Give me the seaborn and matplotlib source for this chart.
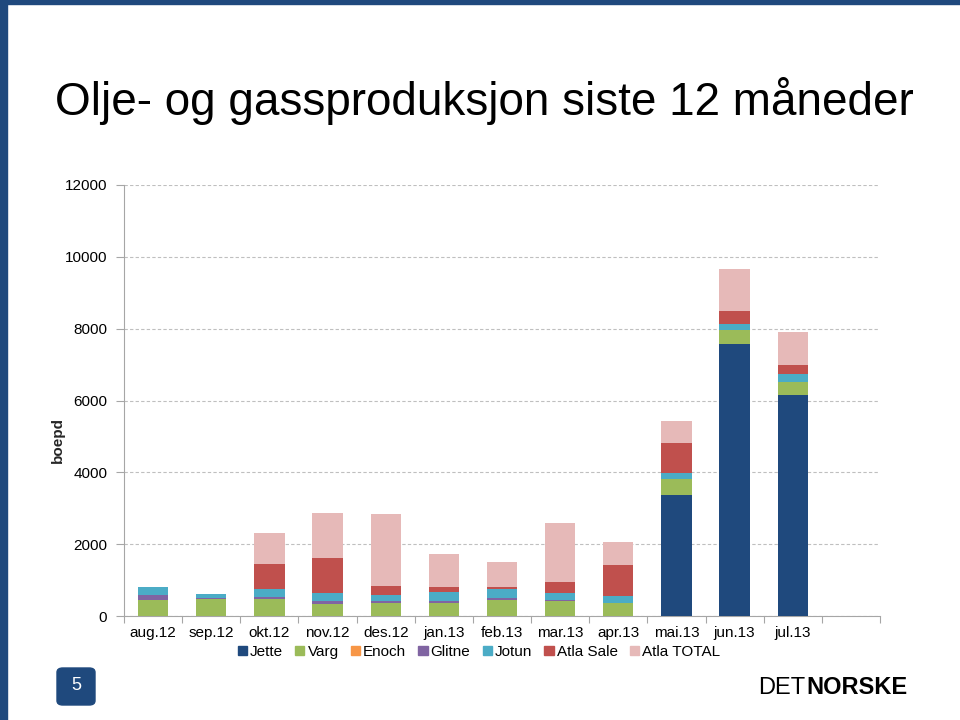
import numpy as np
import pandas as pd
import seaborn as sns
import matplotlib.pyplot as plt
from matplotlib.patches import FancyBboxPatch, Rectangle

# data (boepd)
months = ['aug.12', 'sep.12', 'okt.12', 'nov.12', 'des.12', 'jan.13',
          'feb.13', 'mar.13', 'apr.13', 'mai.13', 'jun.13', 'jul.13']
jette = [0, 0, 0, 0, 0, 0, 0, 0, 0, 3360, 7580, 6150]
varg = [445, 465, 465, 345, 355, 360, 455, 410, 370, 445, 370, 365]
enoch = [0, 0, 0, 0, 0, 0, 0, 0, 0, 0, 0, 0]
glitne = [140, 40, 75, 65, 55, 50, 55, 45, 0, 0, 0, 0]
jotun = [230, 120, 210, 230, 185, 245, 230, 195, 185, 170, 185, 215]
atla_sale = [0, 0, 705, 985, 230, 150, 75, 290, 865, 850, 355, 250]
atla_total = [0, 0, 865, 1235, 2015, 925, 680, 1650, 640, 605, 1160, 920]

series = ['Jette', 'Varg', 'Enoch', 'Glitne', 'Jotun', 'Atla Sale', 'Atla TOTAL']
colors = ['#1F497D', '#9BBB59', '#F79646', '#8064A2', '#4BACC6', '#C0504D', '#E6B9B8']

df = pd.DataFrame({'month': months, 'Jette': jette, 'Varg': varg, 'Enoch': enoch,
                   'Glitne': glitne, 'Jotun': jotun, 'Atla Sale': atla_sale,
                   'Atla TOTAL': atla_total})
cum = df[series].cumsum(axis=1)
cum['month'] = months

sns.set_style('white')
plt.rcParams['font.family'] = ['Liberation Sans', 'DejaVu Sans']
plt.rcParams['text.color'] = 'black'
plt.rcParams['xtick.color'] = 'black'
plt.rcParams['ytick.color'] = 'black'

fig = plt.figure(figsize=(9.6, 7.2), dpi=100)
ax = fig.add_axes([124 / 960, 1 - 616 / 720, 756 / 960, 431 / 720])

order = months + [' ']
# stacked bars: draw cumulative totals from the top series down
for name, col in reversed(list(zip(series, colors))):
    sns.barplot(data=cum, x='month', y=name, order=order, color=col,
                width=0.52, saturation=1, linewidth=0, ax=ax, zorder=3)

ax.set_xlim(-0.5, 12.5)
ax.set_ylim(0, 12000)
ax.set_yticks(range(0, 12001, 2000))
ax.yaxis.grid(True, color='#BFBFBF', linestyle=(0, (3, 2)), linewidth=0.8, zorder=0)
ax.xaxis.grid(False)
for s in ['top', 'right']:
    ax.spines[s].set_visible(False)
ax.spines['left'].set_color('#A6A6A6')
ax.spines['bottom'].set_color('#A6A6A6')
ax.set_xticks(np.arange(13))
ax.set_xticklabels(order)
ax.set_xticks(np.arange(-0.5, 13, 1), minor=True)
ax.tick_params(axis='x', which='major', bottom=True, length=0, labelsize=11, pad=7)
ax.tick_params(axis='x', which='minor', bottom=True, length=5, width=0.8,
               color='#A6A6A6', direction='out')
ax.tick_params(axis='y', left=True, length=6, width=0.8, color='#A6A6A6', direction='out',
               labelsize=11, pad=6, labelcolor='black')
ax.set_xlabel('')
ax.set_ylabel('boepd', fontsize=11, fontweight='bold')
ax.yaxis.set_label_coords((65 - 124) / 756, (616 - 440) / 431)

handles = [Rectangle((0, 0), 1, 1, color=c) for c in colors]
fig.legend(handles, series, loc='center', bbox_to_anchor=(479 / 960, 1 - 652 / 720),
           ncol=7, frameon=False, fontsize=11, handlelength=0.6, handleheight=0.6,
           handletextpad=0.2, columnspacing=0.8)

fig.text(55 / 960, 1 - 101 / 720, 'Olje- og gassproduksjon siste 12 måneder',
         fontsize=33, va='center', ha='left', color='black')

# slide decoration
fig.patches.append(Rectangle((0, 0), 7 / 960, 1, transform=fig.transFigure,
                             color='#1F497D', zorder=10))
fig.patches.append(Rectangle((0, 1 - 4 / 720), 1, 4 / 720, transform=fig.transFigure,
                             color='#1F497D', zorder=10))
fig.patches.append(FancyBboxPatch((57 / 960, 1 - 705 / 720), 38 / 960, 37 / 720,
                                  boxstyle='round,pad=0,rounding_size=0.006',
                                  transform=fig.transFigure, color='#1F497D'))
fig.text(76 / 960, 1 - 686 / 720, '5', color='white', fontsize=13, ha='center', va='center')
fig.text(805 / 960, 1 - 688 / 720, 'DET', fontsize=17, ha='right', va='center')
fig.text(806 / 960, 1 - 688 / 720, 'NORSKE', fontsize=17, fontweight='bold',
         ha='left', va='center')

fig.savefig('out.png', dpi=100)
